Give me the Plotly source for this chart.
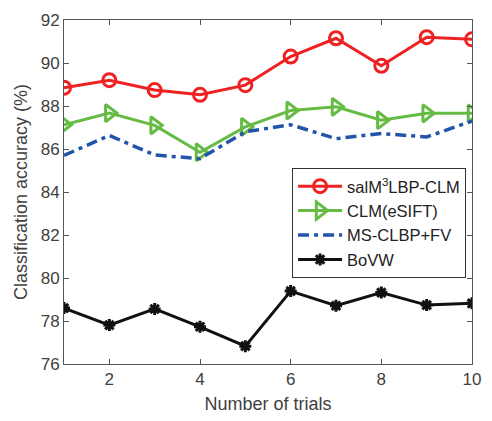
import plotly.graph_objects as go

trials = [1, 2, 3, 4, 5, 6, 7, 8, 9, 10]
salm3lbp_clm = [88.85, 89.2, 88.74, 88.52, 88.97, 90.3, 91.15, 89.87, 91.2, 91.1]
clm_esift = [87.13, 87.67, 87.1, 85.85, 87.03, 87.79, 87.96, 87.34, 87.66, 87.66]
ms_clbp_fv = [85.7, 86.63, 85.72, 85.55, 86.8, 87.13, 86.48, 86.72, 86.56, 87.3]
bovw = [78.6, 77.81, 78.56, 77.73, 76.83, 79.39, 78.71, 79.32, 78.74, 78.82]

x_ticks = [2, 4, 6, 8, 10]
y_ticks = [76, 78, 80, 82, 84, 86, 88, 90, 92]

fig = go.Figure()
fig.add_trace(go.Scatter(
    x=trials, y=salm3lbp_clm, name="salM<sup>3</sup>LBP-CLM", mode="lines+markers",
    line=dict(color="#EE2222", width=3),
    marker=dict(symbol="circle-open", size=13, color="#EE2222", line=dict(width=3)),
))
fig.add_trace(go.Scatter(
    x=trials, y=clm_esift, name="CLM(eSIFT)", mode="lines+markers",
    line=dict(color="#66BB44", width=3),
    marker=dict(symbol="triangle-right-open", size=15, color="#66BB44", line=dict(width=3)),
))
fig.add_trace(go.Scatter(
    x=trials, y=ms_clbp_fv, name="MS-CLBP+FV", mode="lines",
    line=dict(color="#2255AA", width=3.5, dash="11px,5px,4px,5px"),
))
fig.add_trace(go.Scatter(
    x=trials, y=bovw, name="BoVW", mode="lines+markers",
    line=dict(color="#111111", width=3),
    marker=dict(symbol="asterisk-open", size=10, color="#111111", line=dict(width=3, color="#111111")),
))

axis_common = dict(
    showline=True, linecolor="#555555", linewidth=1, mirror="ticks",
    ticks="inside", ticklen=5, tickcolor="#555555", showgrid=False, zeroline=False,
    tickfont=dict(family="Liberation Sans, Arial, sans-serif", size=17, color="#404040"),
)

fig.update_layout(
    width=492, height=421,
    margin=dict(l=64, r=11, t=13, b=54),
    paper_bgcolor="white", plot_bgcolor="white",
    font=dict(family="Liberation Sans, Arial, sans-serif", color="#404040"),
    xaxis=dict(range=[1, 10], tickvals=x_ticks,
               title=dict(text="Number of trials", font=dict(size=18, color="#404040"), standoff=8),
               **axis_common),
    yaxis=dict(range=[76, 92], tickvals=y_ticks,
               title=dict(text="Classification accuracy (%)", font=dict(size=18, color="#404040"), standoff=8),
               **axis_common),
    legend=dict(
        x=0.559, y=0.57, xanchor="left", yanchor="top",
        bordercolor="#333333", borderwidth=1, bgcolor="white",
        font=dict(size=16.5, color="#222222"),
        itemwidth=44, tracegroupgap=0,
    ),
    showlegend=True,
)

fig.write_html("out.html", config={"displayModeBar": False},
               post_script="document.body.style.margin='0';document.body.style.overflow='hidden';")
